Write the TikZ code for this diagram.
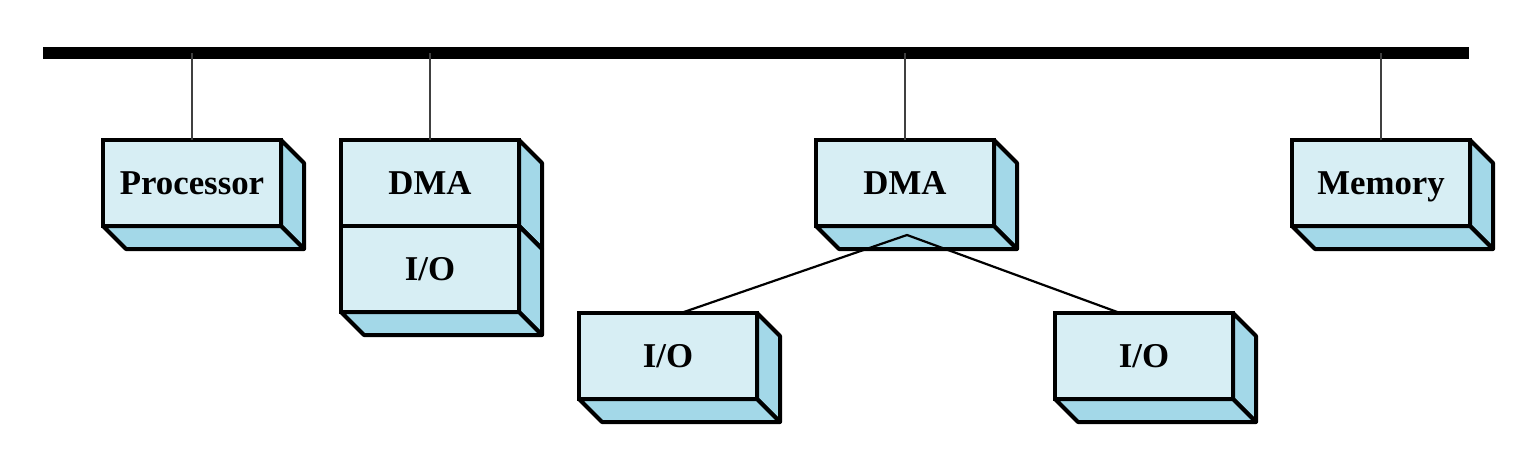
\documentclass[tikz,border=0pt]{standalone}
\usepackage{fontspec}
\setmainfont{Liberation Serif}
\usetikzlibrary{positioning, backgrounds}
\definecolor{frontblue}{HTML}{D7EEF4}
\definecolor{sideblue}{HTML}{A3D8E8}

\begin{document}
\begin{tikzpicture}[x=0.5pt, y=-0.5pt,
box/.style={draw, line width=2pt, fill=frontblue, minimum width=89pt, minimum height=43pt,
  inner sep=0pt, outer sep=0pt, font=\bfseries\fontsize{17.4}{20}\selectfont,
  text height=11.5pt, text depth=0pt},
face/.style={draw, line width=2pt, line join=round, fill=sideblue},
link/.style={line width=1pt, black!75},
fork/.style={line width=1.1pt},
bus/.style={line width=6pt}]
\useasboundingbox (0,0) rectangle (1536,466);
% system bus
\coordinate (busL) at (43,53);
\coordinate (busR) at (1469,53);
\draw[bus] (busL) -- (busR);
% modules
\node[box] (proc) at (192,183) {Processor};
\node[box] (dmaA) at (430,183) {DMA};
\node[box, below=0pt of dmaA] (ioA) {I/O};
\node[box] (dmaB) at (905,183) {DMA};
\node[box] (mem) at (1381,183) {Memory};
\node[box] (ioB) at (668,356) {I/O};
\node[box] (ioC) at (1144,356) {I/O};
% side and bottom faces
\begin{scope}[on background layer]
\foreach \n in {proc, dmaA, ioA, dmaB, mem, ioB, ioC}{
  \draw[face] (\n.north east) -- ++(11.5pt,-11.5pt) -- ([shift={(11.5pt,-11.5pt)}]\n.south east) -- (\n.south east) -- cycle;
  \draw[face] (\n.south west) -- ++(11.5pt,-11.5pt) -- ([shift={(11.5pt,-11.5pt)}]\n.south east) -- (\n.south east) -- cycle;
}
\end{scope}
% bus taps
\foreach \n in {proc, dmaA, dmaB, mem}
  \draw[link] (\n.north) -- (\n.north |- busL);
% DMA to I/O
\coordinate (fork) at ([shift={(1pt,-4.5pt)}]dmaB.south);
\draw[fork] ([xshift=6.5pt]ioB.north) -- (fork) -- ([xshift=-12pt]ioC.north);
\end{tikzpicture}
\end{document}
